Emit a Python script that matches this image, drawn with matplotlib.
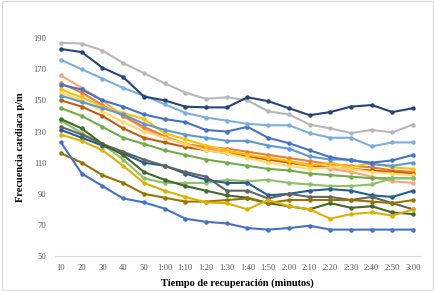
import matplotlib
matplotlib.use("Agg")
import matplotlib.pyplot as plt
from matplotlib.patches import Rectangle

tiempos = ["10", "20", "30", "40", "50", "1:00", "1:10", "1:20", "1:30", "1:40",
           "1:50", "2:00", "2:10", "2:20", "2:30", "2:40", "2:50", "3:00"]

s_gris = [187, 186.5, 182, 174, 167.5, 161, 155, 151, 152, 150, 143, 141, 134.5, 132, 129, 131, 129.5, 134.5]
s_marino = [183, 181, 171, 165, 152.5, 150, 146, 145.5, 145.5, 152, 149.5, 145, 140.5, 142.5, 146, 147, 142.5, 145]
s_celeste = [176, 170, 164, 158, 153, 147.5, 142, 139, 137, 135, 134, 134, 129, 126, 126, 120.5, 123, 123]
s_azul_medio = [160, 157, 150, 146, 141, 138, 136, 131, 130, 133, 126, 122.5, 118, 113.5, 111.5, 110, 111.5, 115]
s_azul_acero = [153, 149, 145, 141, 135, 131, 128, 126, 124, 124, 121, 119, 114, 112, 112, 109, 108, 110]
s_naranja_claro = [166, 158, 150, 140, 132, 126, 122, 119, 117, 115, 113, 111, 109, 106, 104, 101, 98, 97]
s_naranja = [161, 155, 147, 140, 133, 127, 122, 120, 119, 117, 115, 113, 111, 109, 108, 107, 105, 104]
s_naranja_osc = [150, 146, 140, 132, 126, 123, 120, 118, 116, 114, 112, 110, 108, 107, 106, 105, 104, 103]
s_amarillo = [157, 152, 146, 142, 138, 129, 125, 121, 118, 115, 113, 111, 108, 110, 107, 110, 107, 106]
s_dorado_claro = [155, 150, 143, 136, 130, 126, 122, 118, 116, 113, 110, 108, 106, 107, 106, 104, 103, 102]
s_verde = [145, 140, 133, 126, 122, 118, 115, 112, 110, 108, 106, 105, 103, 102, 101, 100, 100, 100]
s_verde_claro = [137, 129, 122, 112, 100, 97, 97, 97, 99, 98, 99, 97, 96, 95, 95, 96, 100, 100]
s_azul_osc = [131, 126, 121, 116, 110, 108, 103, 99, 97, 97, 89, 90, 92, 93, 92, 89, 88, 92]
s_gris_osc = [133, 128, 122, 117, 112, 108, 104, 101, 92, 92, 87, 90, 88, 88, 86, 88, 84, 80]
s_verde_osc = [138, 132, 122, 115, 104, 99, 95, 92, 89, 87.5, 84, 82, 80, 84, 81, 82, 78, 77]
s_oliva = [116, 110, 102, 97, 90, 87.5, 85, 85, 86, 87, 84, 86, 86, 86, 86, 85, 84, 86]
s_oro = [128, 124, 118, 108, 97, 92, 88, 84.5, 84, 80, 86, 82, 80, 74, 77, 78, 76, 80]
s_azul_bajo = [123, 103, 95, 87, 84.5, 80.5, 74, 72, 71, 68, 67, 68, 69.5, 67, 67, 67, 67, 67]

series = [
    (s_naranja_claro, "#F4A582"),
    (s_naranja, "#ED7D31"),
    (s_naranja_osc, "#C55A11"),
    (s_amarillo, "#FFC000"),
    (s_dorado_claro, "#FFD966"),
    (s_verde, "#70AD47"),
    (s_verde_claro, "#8CC168"),
    (s_azul_acero, "#5B9BD5"),
    (s_azul_medio, "#4472C4"),
    (s_azul_osc, "#255E91"),
    (s_gris_osc, "#636363"),
    (s_verde_osc, "#43682B"),
    (s_oliva, "#997300"),
    (s_oro, "#E0B000"),
    (s_azul_bajo, "#4472C4"),
    (s_celeste, "#7CAFDD"),
    (s_gris, "#B7B7B7"),
    (s_marino, "#264478"),
]

fig = plt.figure(figsize=(4.35, 2.91), dpi=100)
ax = fig.add_axes([0.126, 0.120, 0.840, 0.749])

x = list(range(len(tiempos)))
for vals, col in series:
    ax.plot(x, vals, color=col, lw=1.5, marker="o", ms=2.2, mec=col, mfc=col)

ax.set_xlim(-0.3, len(tiempos) - 1 + 0.34)
ax.set_ylim(50, 190)
ax.set_yticks(range(50, 191, 20))
ax.set_xticks(x)
ax.set_xticklabels(tiempos)

for sp in ["top", "right", "left"]:
    ax.spines[sp].set_visible(False)
ax.spines["bottom"].set_color("#D9D9D9")
ax.spines["bottom"].set_linewidth(0.8)
ax.tick_params(axis="both", length=0, labelsize=6.2, labelcolor="#595959", pad=6)
for lab in ax.get_xticklabels() + ax.get_yticklabels():
    lab.set_family("Liberation Serif")

ax.set_xlabel("Tiempo de recuperación (minutos)", family="Liberation Serif",
              fontsize=7.5, fontweight="bold", labelpad=4)
ax.set_ylabel("Frecuencia cardiaca p/m", family="Liberation Serif",
              fontsize=7.5, fontweight="bold", labelpad=6)

fig.patches.append(Rectangle((0.004, 0.004), 0.992, 0.992, transform=fig.transFigure,
                             fill=False, edgecolor="#D9D9D9", lw=0.8))

fig.savefig("out.png", dpi=100)
